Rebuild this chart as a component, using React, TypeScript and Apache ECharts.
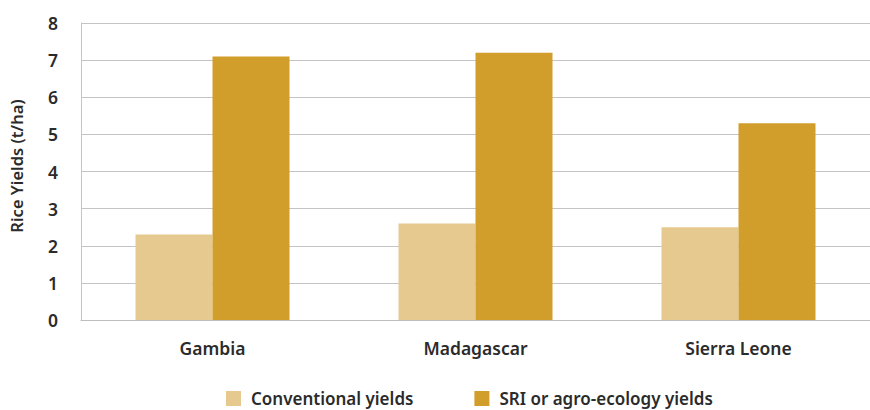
import React, { useEffect, useRef } from "react";
import * as echarts from "echarts";

const categories = ["Gambia", "Madagascar", "Sierra Leone"];
const conventional = [2.3, 2.6, 2.5];
const sri = [7.1, 7.2, 5.3];
const seriesNames = ["Conventional yields", "SRI or agro-ecology yields"];
const yTicks = [0, 1, 2, 3, 4, 5, 6, 7, 8];

const FONT = "'Noto Sans', sans-serif";
const TEXT = "#2b2b2b";
const FS = 17.5;

export default function App() {
  const ref = useRef<HTMLDivElement>(null);
  useEffect(() => {
    if (!ref.current) return;
    const chart = echarts.init(ref.current, null, { renderer: "svg" });
    chart.setOption({
      animation: false,
      backgroundColor: "#ffffff",
      textStyle: { fontFamily: FONT },
      grid: { left: 76, top: 23, right: -7, bottom: 90, containLabel: false },
      legend: {
        data: seriesNames,
        top: 385,
        left: 221,
        itemWidth: 15,
        itemHeight: 15,
        itemGap: 61,
        icon: "rect",
        textStyle: {
          fontFamily: FONT,
          fontSize: 17,
          fontWeight: 600,
          color: TEXT,
          lineHeight: 17,
          padding: [0, 0, 0, 5],
        },
      },
      xAxis: {
        type: "category",
        data: categories,
        axisLine: { show: true, lineStyle: { color: "#bdbdbd", width: 1 } },
        axisTick: { show: false },
        axisLabel: { fontFamily: FONT, fontSize: FS, fontWeight: 600, color: TEXT, margin: 19 },
      },
      yAxis: {
        type: "value",
        min: yTicks[0],
        max: yTicks[yTicks.length - 1],
        interval: 1,
        name: "Rice Yields (t/ha)",
        nameLocation: "middle",
        nameRotate: 90,
        nameGap: 56,
        nameTextStyle: {
          fontFamily: FONT,
          fontSize: 16.5,
          fontWeight: 600,
          color: TEXT,
          padding: [0, 0, 0, 11],
        },
        axisLine: { show: true, lineStyle: { color: "#c4c4c4", width: 1 } },
        axisTick: { show: false },
        splitLine: { show: true, lineStyle: { color: "#c4c4c4", width: 1 } },
        axisLabel: { fontFamily: FONT, fontSize: FS, fontWeight: 600, color: TEXT, margin: 23 },
      },
      series: [
        {
          name: seriesNames[0],
          type: "bar",
          data: conventional,
          barWidth: 77,
          barGap: "0%",
          itemStyle: { color: "#E6C98E" },
        },
        {
          name: seriesNames[1],
          type: "bar",
          data: sri,
          barWidth: 77,
          barGap: "0%",
          itemStyle: { color: "#D19E2B" },
        },
      ],
    });
    return () => chart.dispose();
  }, []);
  return (
    <div
      ref={ref}
      style={{ position: "fixed", left: 0, top: 0, width: 870, height: 410, background: "#fff" }}
    />
  );
}
